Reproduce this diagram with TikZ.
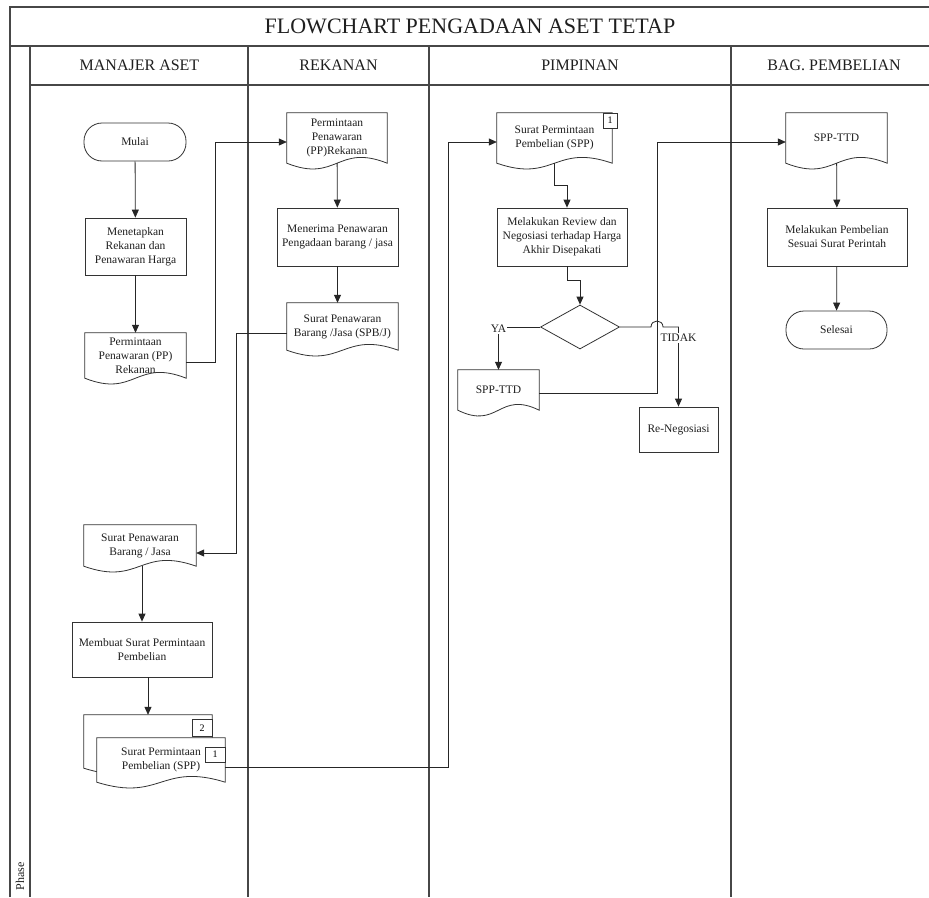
\documentclass[tikz,border=0pt]{standalone}
\usepackage{fontspec}
\setmainfont{Liberation Serif}
\usetikzlibrary{arrows.meta,calc,shapes.geometric}
\newcommand\mydoc[2][]{\draw[shp,#1] (#2.north west) -- (#2.north east) -- (#2.south east) .. controls ($(#2.south)+(0,-20)$) and ($(#2.south)+(0,20)$) .. (#2.south west) -- cycle;}
\begin{document}
\begin{tikzpicture}[x=1pt,y=-1pt,
 shp/.style={draw=black!80, line width=0.8pt},
 lane/.style={draw=black!72, line width=1.3pt},
 txt/.style={font=\fontsize{11.5}{14}\selectfont, align=center, text=black!88},
 proc/.style={txt, rectangle, shp, fill=white, inner sep=2pt},
 term/.style={txt, rectangle, shp, fill=white, rounded corners=18pt},
 docn/.style={txt, rectangle, inner sep=2pt},
 numbox/.style={rectangle, shp, fill=white, font=\fontsize{10}{12}\selectfont, inner sep=0pt},
 hdr/.style={font=\fontsize{16}{19}\selectfont, text=black!88},
 arr/.style={draw=black!85, line width=0.8pt, -{Triangle[length=8pt,width=7pt]}},
 lbl/.style={font=\fontsize{11.5}{14}\selectfont, fill=white, inner sep=1pt, text=black!88}
]
\fill[white] (0,0) rectangle (929,897);
\useasboundingbox (0,0) rectangle (929,897);
% frame
\draw[lane] (10,897) -- (10,7) -- (929,7);
\draw[lane] (10,46) -- (929,46);
\draw[lane] (30,46) -- (30,897);
\draw[lane] (30,85) -- (929,85);
\foreach \x in {248,429,731} \draw[lane] (\x,46) -- (\x,897);
\node[font=\fontsize{22}{26}\selectfont, text=black!88] (title) at (470,26) {FLOWCHART PENGADAAN ASET TETAP};
\node[hdr] (h1) at (139.5,65.5) {MANAJER ASET};
\node[hdr] (h2) at (338.5,65.5) {REKANAN};
\node[hdr] (h3) at (580,65.5) {PIMPINAN};
\node[hdr] (h4) at (834,65.5) {BAG. PEMBELIAN};
\node[rotate=90, anchor=west, font=\fontsize{12}{14}\selectfont, text=black!88] (phase) at (20,894) {Phase};
% lane 1
\node[term, minimum width=102pt, minimum height=38pt] (mulai) at (135,142) {Mulai};
\node[proc, minimum width=101pt, minimum height=57pt] (tetap) at (135.5,246.5) {Menetapkan\\Rekanan dan\\Penawaran Harga};
\node[docn, minimum width=101pt, minimum height=45pt] (pp1) at (135.5,355.5) {Permintaan\\Penawaran (PP)\\Rekanan};
\mydoc{pp1}
\node[docn, minimum width=112pt, minimum height=41pt] (spb) at (140,545.5) {Surat Penawaran\\Barang / Jasa};
\mydoc{spb}
\node[proc, minimum width=140pt, minimum height=55pt] (buat) at (142,649.5) {Membuat Surat Permintaan\\Pembelian};
\node[minimum width=128pt, minimum height=53pt, inner sep=0pt] (sppb) at (148,741.5) {};
\mydoc[fill=white]{sppb}
\node[minimum width=128pt, minimum height=44pt, inner sep=0pt] (sppf) at (161,760) {};
\mydoc[fill=white]{sppf}
\node[txt] (sppft) at (sppf.center) {Surat Permintaan\\Pembelian (SPP)};
\node[numbox, minimum width=20pt, minimum height=17pt] (n2) at (202,728) {2};
\node[numbox, minimum width=20pt, minimum height=15pt] (n1a) at (215,754.5) {1};
% lane 2
\node[docn, minimum width=100pt, minimum height=50pt] (pp2) at (337,138) {Permintaan\\Penawaran\\(PP)Rekanan};
\mydoc{pp2}
\node[proc, minimum width=121pt, minimum height=58pt] (terima) at (337.5,237) {Menerima Penawaran\\Pengadaan barang / jasa};
\node[docn, minimum width=111pt, minimum height=47pt] (spbj) at (342.5,326.5) {Surat Penawaran\\Barang /Jasa (SPB/J)};
\mydoc{spbj}
% lane 3
\node[docn, minimum width=115pt, minimum height=50pt] (spp3) at (554.5,138) {Surat Permintaan\\Pembelian (SPP)};
\mydoc{spp3}
\node[numbox, minimum width=14pt, minimum height=15pt] (n1b) at (610,120.5) {1};
\node[proc, minimum width=130pt, minimum height=58pt] (review) at (562,237) {Melakukan Review dan\\Negosiasi terhadap Harga\\Akhir Disepakati};
\node[shp, diamond, minimum width=79pt, minimum height=44pt, inner sep=0pt] (dec) at (580,327) {};
\node[docn, minimum width=81pt, minimum height=40pt] (ttd1) at (498.5,390) {SPP-TTD};
\mydoc{ttd1}
\node[proc, minimum width=79pt, minimum height=45pt] (reneg) at (678.5,429.5) {Re-Negosiasi};
% lane 4
\node[docn, minimum width=101pt, minimum height=50pt] (ttd2) at (836.5,138) {SPP-TTD};
\mydoc{ttd2}
\node[proc, minimum width=140pt, minimum height=58pt] (beli) at (837,237) {Melakukan Pembelian\\Sesuai Surat Perintah};
\node[term, minimum width=101pt, minimum height=38pt] (selesai) at (836.5,330) {Selesai};
% connectors
\draw[arr] (mulai) -- (tetap);
\draw[arr] (tetap) -- (pp1);
\draw[arr] ($(pp1.east)+(0,6.5)$) -- ++(29,0) |- ($(pp2.west)+(0,4)$);
\draw[arr] (pp2) -- (terima);
\draw[arr] (terima.south) -- (terima.south |- spbj.north);
\draw[arr] ($(spbj.west)+(0,6.5)$) -- ++(-50,0) |- ($(spb.east)+(0,7.5)$);
\draw[arr] (buat.north |- spb.south) -- (buat.north);
\draw[arr] (sppb.north |- buat.south) -- (sppb.north);
\draw[arr] ($(sppf.east)+(0,7)$) -- ++(223,0) |- ($(spp3.west)+(0,4)$);
\draw[arr] (spp3.south) -- ++(0,22) -| ($(review.north)+(5,0)$);
\draw[arr] ($(review.south)+(5,0)$) -- ++(0,14) -| (dec.north);
\draw[arr] (dec.west) -| (ttd1.north);
\node[lbl] (ya) at ($(dec.west -| ttd1.north)+(0,2)$) {YA};
\coordinate (jx) at (657,142);
\draw[arr] ($(ttd1.east)+(0,3)$) -| (jx) -- ($(ttd2.west)+(0,4)$);
\draw[arr] (dec.east) -- ($(dec.east -| jx)+(-6,0)$) .. controls +(0,-8) and +(0,-8) .. ($(dec.east -| jx)+(6,0)$) -- (dec.east -| reneg.north) -- (reneg.north);
\node[lbl] (tidak) at ($(dec.east -| reneg.north)+(0,11)$) {TIDAK};
\draw[arr] (ttd2) -- (beli);
\draw[arr] (beli) -- (selesai);
\end{tikzpicture}
\end{document}
